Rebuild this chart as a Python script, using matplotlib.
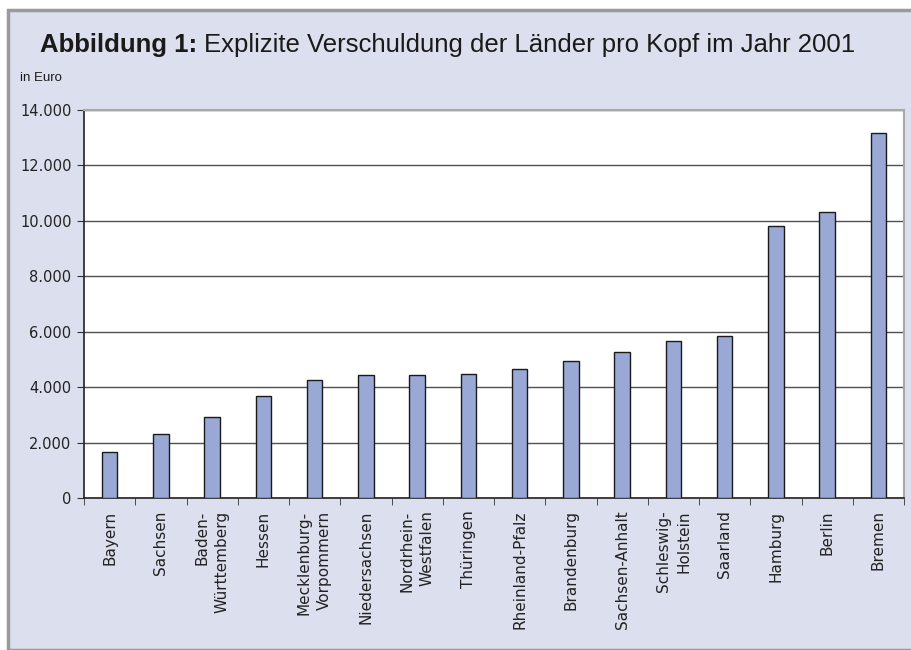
import matplotlib
matplotlib.use("Agg")
from matplotlib import pyplot as plt
from matplotlib.patches import Rectangle
from matplotlib.ticker import FuncFormatter
import numpy as np

laender = ["Bayern", "Sachsen", "Baden-\nWürttemberg", "Hessen", "Mecklenburg-\nVorpommern",
           "Niedersachsen", "Nordrhein-\nWestfalen", "Thüringen", "Rheinland-Pfalz", "Brandenburg",
           "Sachsen-Anhalt", "Schleswig-\nHolstein", "Saarland", "Hamburg", "Berlin", "Bremen"]
schulden = [1650, 2300, 2910, 3670, 4250, 4430, 4430, 4490, 4650, 4940,
            5270, 5680, 5850, 9820, 10310, 13170]
y_ticks = [0, 2000, 4000, 6000, 8000, 10000, 12000, 14000]

plt.rcParams["font.family"] = ["DejaVu Sans"]

bg = "#dce0ee"
fig = plt.figure(figsize=(9.11, 6.5), dpi=100, facecolor="white")
fig.patches.append(Rectangle((8 / 911, 0), 1, 1 - 10 / 650, transform=fig.transFigure,
                             facecolor=bg, edgecolor="#9a9a9a", linewidth=2.5, zorder=-10))

ax = fig.add_axes([84 / 911, 1 - 498 / 650, (904 - 84) / 911, (498 - 110) / 650])
ax.set_facecolor("white")
x = np.arange(len(laender))
ax.bar(x, schulden, width=0.3, color="#99a8d4", edgecolor="#1a1a1a", linewidth=1.0, zorder=3)
ax.set_xlim(-0.5, len(laender) - 0.5)
ax.set_ylim(0, 14000)
ax.set_yticks(y_ticks)
ax.yaxis.set_major_formatter(FuncFormatter(lambda v, p: f"{int(v):,}".replace(",", ".")))
ax.grid(axis="y", color="#505050", linewidth=1.0, zorder=1)
ax.set_xticks(x)
ax.set_xticklabels(laender, rotation=90, va="top", ha="center", fontsize=11,
                   linespacing=1.45, color="#222222", multialignment="right")
ax.set_xticks(np.arange(-0.5, len(laender)), minor=True)
ax.tick_params(axis="x", which="major", length=0, pad=9)
ax.tick_params(axis="x", which="minor", length=5, color="#333333", direction="out")
ax.tick_params(axis="y", length=5, color="#333333", labelsize=10.5, pad=4, labelcolor="#222222")
for s in ["left", "bottom"]:
    ax.spines[s].set_color("#222222")
    ax.spines[s].set_linewidth(1.2)
for s in ["top", "right"]:
    ax.spines[s].set_color("#a8a8a8")
    ax.spines[s].set_linewidth(1.5)

t1 = fig.text(40 / 911, 1 - 45 / 650, "Abbildung 1: ", fontsize=18.5, fontweight="bold",
              family="Liberation Sans", va="center", ha="left", color="#1a1a1a")
fig.canvas.draw()
bb = t1.get_window_extent()
fig.text(bb.x1 / 911, 1 - 45 / 650, "Explizite Verschuldung der Länder pro Kopf im Jahr 2001",
         fontsize=18.5, family="Liberation Sans", va="center", ha="left", color="#1a1a1a")
fig.text(20 / 911, 1 - 78 / 650, "in Euro", fontsize=9.5, family="Liberation Sans",
         va="center", ha="left", color="#1a1a1a")

fig.savefig("out.png", dpi=100, facecolor=fig.get_facecolor())
